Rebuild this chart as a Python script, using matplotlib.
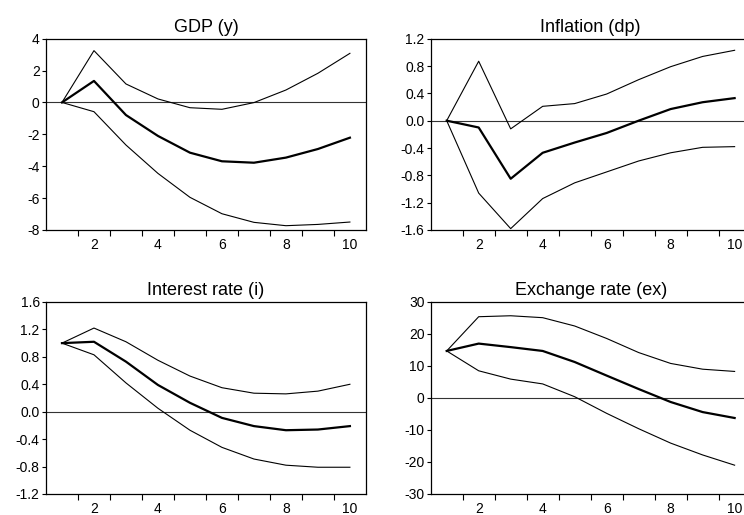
import numpy as np
import matplotlib
matplotlib.use("Agg")
import matplotlib.pyplot as plt

plt.rcParams['font.family'] = ['Liberation Sans', 'DejaVu Sans']

periods = np.arange(1, 11)

gdp_mean = [0, 1.35, -0.79, -2.1, -3.15, -3.69, -3.78, -3.46, -2.92, -2.21]
gdp_upper = [0, 3.25, 1.16, 0.22, -0.33, -0.43, -0.01, 0.78, 1.83, 3.08]
gdp_lower = [0, -0.58, -2.67, -4.45, -5.95, -6.98, -7.52, -7.73, -7.65, -7.5]

infl_mean = [0, -0.10, -0.85, -0.47, -0.32, -0.18, 0.0, 0.17, 0.27, 0.33]
infl_upper = [0, 0.87, -0.12, 0.21, 0.25, 0.39, 0.60, 0.79, 0.94, 1.03]
infl_lower = [0, -1.06, -1.58, -1.14, -0.91, -0.75, -0.59, -0.47, -0.39, -0.38]

int_mean = [1.0, 1.02, 0.73, 0.39, 0.13, -0.09, -0.21, -0.27, -0.26, -0.21]
int_upper = [1.0, 1.22, 1.02, 0.75, 0.52, 0.35, 0.27, 0.26, 0.30, 0.40]
int_lower = [1.0, 0.83, 0.42, 0.05, -0.27, -0.52, -0.69, -0.78, -0.81, -0.81]

ex_mean = [14.7, 17.0, 15.9, 14.7, 11.25, 7.0, 2.8, -1.25, -4.4, -6.25]
ex_upper = [14.7, 25.4, 25.7, 25.1, 22.5, 18.6, 14.2, 10.8, 9.0, 8.3]
ex_lower = [14.7, 8.5, 5.9, 4.4, 0.4, -4.8, -9.6, -14.1, -17.8, -21.0]

titles = ['GDP (y)', 'Inflation (dp)', 'Interest rate (i)', 'Exchange rate (ex)']
ylims = [(-8, 4), (-1.6, 1.2), (-1.2, 1.6), (-30, 30)]
yticks = [np.arange(-8, 5, 2), np.arange(-1.6, 1.21, 0.4),
          np.arange(-1.2, 1.61, 0.4), np.arange(-30, 31, 10)]
yfmt = ['{:.0f}', '{:.1f}', '{:.1f}', '{:.0f}']
series = [(gdp_mean, gdp_upper, gdp_lower),
          (infl_mean, infl_upper, infl_lower),
          (int_mean, int_upper, int_lower),
          (ex_mean, ex_upper, ex_lower)]

# axes rectangles in figure fraction (left, bottom, width, height)
rects = [(0.0618, 0.5534, 0.430, 0.3715),
         (0.5789, 0.5534, 0.430, 0.3715),
         (0.0618, 0.0408, 0.430, 0.3728),
         (0.5789, 0.0408, 0.430, 0.3728)]

fig = plt.figure(figsize=(7.44, 5.15), dpi=100)

for rect, title, ylim, yt, fmt, (m, u, l) in zip(rects, titles, ylims, yticks, yfmt, series):
    ax = fig.add_axes(rect)
    ax.axhline(0, color='#333333', lw=0.8)
    ax.plot(periods, u, color='black', lw=0.8)
    ax.plot(periods, l, color='black', lw=0.8)
    ax.plot(periods, m, color='black', lw=1.6)
    ax.set_xlim(0.5, 10.5)
    ax.set_ylim(*ylim)
    ax.set_yticks(yt)
    ax.set_yticklabels([fmt.format(v).replace('-0.0', '0.0') for v in yt])
    # ticks between observations, labels on even periods
    ax.set_xticks(np.arange(1.5, 10, 1))
    ax.set_xticklabels([])
    ax.set_xticks(np.arange(2, 11, 2), minor=True)
    ax.set_xticklabels([str(v) for v in range(2, 11, 2)], minor=True)
    ax.tick_params(axis='x', which='major', direction='out', length=4, width=0.8)
    ax.tick_params(axis='x', which='minor', length=0, labelsize=10, pad=6)
    ax.tick_params(axis='y', direction='out', length=3, width=0.8, labelsize=10, pad=1.5)
    for s in ax.spines.values():
        s.set_linewidth(0.9)
    ax.set_title(title, fontsize=13, pad=5)

fig.savefig('out.png', dpi=100)
